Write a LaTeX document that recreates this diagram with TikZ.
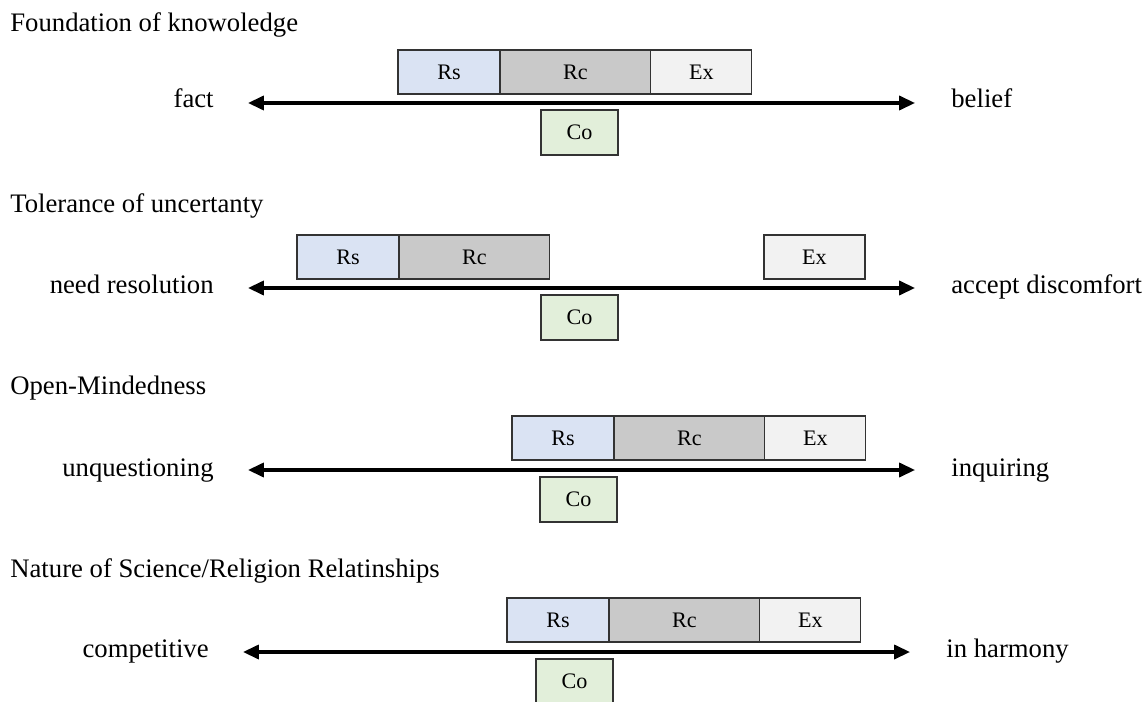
\documentclass[tikz,border=0pt]{standalone}
\usepackage{fontspec}
\setmainfont{Liberation Serif}
\usetikzlibrary{positioning,arrows.meta}
\definecolor{rsblue}{HTML}{DAE3F3}
\definecolor{rcgray}{HTML}{C9C9C9}
\definecolor{exgray}{HTML}{F2F2F2}
\definecolor{cogreen}{HTML}{E2EFDA}
\begin{document}
\begin{tikzpicture}
[x=0.02cm,y=-0.02cm,
 box/.style={draw=black!80,line width=0.6pt,inner sep=0pt,outer sep=0pt,
   minimum height=0.88cm,font=\fontsize{12.6}{14}\selectfont},
 rs/.style={box,fill=rsblue,minimum width=2.04cm},
 rc/.style={box,fill=rcgray,minimum width=3.02cm},
 ex/.style={box,fill=exgray,minimum width=2.02cm},
 co/.style={box,fill=cogreen,minimum width=1.54cm,minimum height=0.9cm},
 axis/.style={line width=1.8pt,
   {Triangle[length=9pt,width=8pt]}-{Triangle[length=9pt,width=8pt]}},
 title/.style={anchor=base west,inner sep=0pt,font=\fontsize{15.2}{18}\selectfont},
 lend/.style={anchor=base east,inner sep=0pt,font=\fontsize{15.2}{18}\selectfont},
 rend/.style={anchor=base west,inner sep=0pt,font=\fontsize{15.2}{18}\selectfont}]
\useasboundingbox (0,0) rectangle (1148,702);

\node[title] (t1) at (10,32) {Foundation of knowoledge};
\coordinate (a1l) at (248,103);
\coordinate (a1r) at (915,103);
\draw[axis] (a1l) -- (a1r);
\node[lend] (l1) at (214,108) {fact};
\node[rend] (r1) at (951,108) {belief};
\node[rs,anchor=north west] (rs1) at (398,50) {Rs};
\node[rc,right=0pt of rs1] (rc1) {Rc};
\node[ex,right=0pt of rc1] (ex1) {Ex};
\node[co,anchor=north west] (co1) at (541,110) {Co};

\node[title] (t2) at (10,213) {Tolerance of uncertanty};
\coordinate (a2l) at (248,288);
\coordinate (a2r) at (915,288);
\draw[axis] (a2l) -- (a2r);
\node[lend] (l2) at (214,294) {need resolution};
\node[rend] (r2) at (951,294) {accept discomfort};
\node[rs,anchor=north west] (rs2) at (297,235) {Rs};
\node[rc,right=0pt of rs2] (rc2) {Rc};
\node[ex,anchor=north west] (ex2) at (764,235) {Ex};
\node[co,anchor=north west] (co2) at (541,295) {Co};

\node[title] (t3) at (10,394) {Open-Mindedness};
\coordinate (a3l) at (248,470);
\coordinate (a3r) at (915,470);
\draw[axis] (a3l) -- (a3r);
\node[lend] (l3) at (214,476) {unquestioning};
\node[rend] (r3) at (951,476) {inquiring};
\node[rs,anchor=north west] (rs3) at (512,416) {Rs};
\node[rc,right=0pt of rs3] (rc3) {Rc};
\node[ex,right=0pt of rc3] (ex3) {Ex};
\node[co,anchor=north west] (co3) at (540,477) {Co};

\node[title] (t4) at (10,577) {Nature of Science/Religion Relatinships};
\coordinate (a4l) at (243,652);
\coordinate (a4r) at (910,652);
\draw[axis] (a4l) -- (a4r);
\node[lend] (l4) at (209,657) {competitive};
\node[rend] (r4) at (946,657) {in harmony};
\node[rs,anchor=north west] (rs4) at (507,598) {Rs};
\node[rc,right=0pt of rs4] (rc4) {Rc};
\node[ex,right=0pt of rc4] (ex4) {Ex};
\node[co,anchor=north west] (co4) at (536,659) {Co};
\end{tikzpicture}
\end{document}
